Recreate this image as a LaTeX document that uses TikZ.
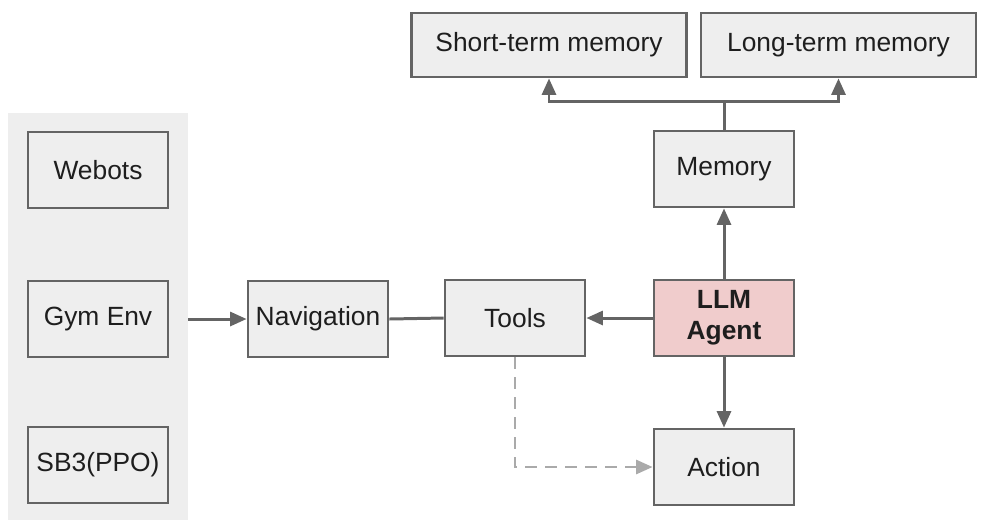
\documentclass[tikz,border=0pt]{standalone}
\usepackage{fontspec}
\setmainfont{Liberation Sans}
\usepackage{xcolor}
\definecolor{edge}{RGB}{100, 100, 100}
\definecolor{boxfill}{RGB}{238, 238, 238}
\definecolor{agentfill}{RGB}{240, 204, 204}
\definecolor{dashgray}{RGB}{170, 170, 170}
\definecolor{textc}{RGB}{30, 30, 30}
\usepackage{tikz}
\usetikzlibrary{arrows.meta, positioning, calc}

\begin{document}
\begin{tikzpicture}[
		box/.style={rectangle, draw=edge, line width=1.6pt, fill=boxfill,
			minimum width=2.8cm, minimum height=1.52cm,
			align=center, text=textc, font=\fontsize{15}{17.5}\selectfont},
		wide/.style={box, minimum width=5.5cm, minimum height=1.28cm},
		arr/.style={-{Triangle[length=0.33cm, width=0.28cm]}, line width=1.7pt, color=edge},
		link/.style={line width=1.7pt, color=edge},
		hint/.style={dashed, dash pattern=on 0.24cm off 0.16cm, line width=1.6pt, color=dashgray,
			-{Triangle[length=0.33cm, width=0.28cm]}}
		]
		\useasboundingbox (0, 0) rectangle (19.68, -10.58);
		
		% Panneau
		\node[rectangle, fill=boxfill, minimum width=3.6cm, minimum height=8.14cm] (panel) at (1.96, -6.33) {};
		
		% Blocs
		\node[box] (webots) at (1.96, -3.4)  {Webots};
		\node[box] (gym)    at (1.96, -6.38) {Gym Env};
		\node[box] (sb)     at (1.96, -9.3)  {SB3(PPO)};
		\node[box] (nav)    at (6.36, -6.38) {Navigation};
		\node[box] (tools)  at (10.3, -6.36) {Tools};
		\node[box, fill=agentfill, font=\fontsize{15}{17.5}\selectfont\bfseries] (agent) at (14.48, -6.36) {LLM\\Agent};
		\node[box] (action) at (14.48, -9.34) {Action};
		\node[box] (mem)    at (14.48, -3.38) {Memory};
		\node[wide] (short) at (10.98, -0.9) {Short-term memory};
		\node[wide] (long)  at (16.77, -0.9) {Long-term memory};
		
		% Liens
		\draw[arr] (gym.east -| panel.east) -- (nav.west);
		\draw[link] (nav.east) -- (tools.west);
		\draw[arr] (agent.west) -- (tools.east);
		\draw[arr] (agent.north) -- (mem.south);
		\draw[arr] (agent.south) -- (action.north);
		\coordinate (split) at ($(mem.north) + (0, 0.56)$);
		\draw[link] (mem.north) -- (split);
		\draw[arr] (split) -| (short.south);
		\draw[arr] (split) -| (long.south);
		\draw[hint] (tools.south) |- (action.west);
	\end{tikzpicture}
\end{document}
